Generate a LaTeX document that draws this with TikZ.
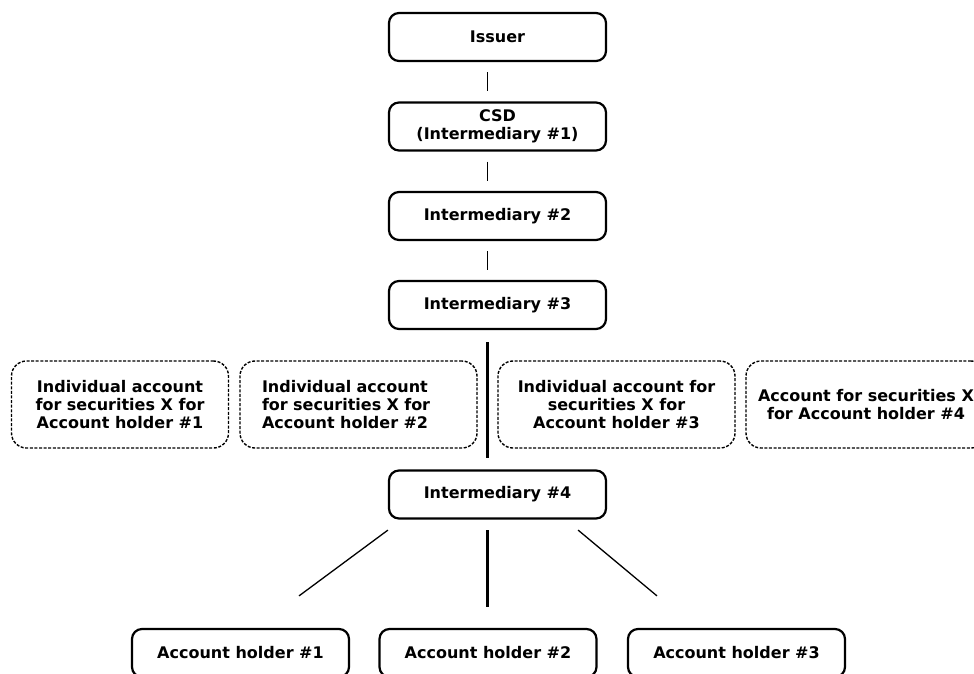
\documentclass[tikz,border=0pt]{standalone}
\usepackage{fontspec}
\setmainfont{DejaVu Sans}
\usepackage{tikz}
\usetikzlibrary{
  arrows.meta,
  calc
}

\begin{document}
\begin{tikzpicture}[
    x=1pt, y=-1pt,
    box/.style={draw, line width=2.2pt, rounded corners=10pt,
      minimum width=217pt, minimum height=48pt, inner sep=0pt,
      align=center, font=\bfseries\fontsize{16}{18}\selectfont},
    acct/.style={draw, line width=1.4pt, dash pattern=on 3pt off 1.6pt,
      rounded corners=15pt, minimum height=87pt, inner sep=0pt,
      align=center, font=\bfseries\fontsize{16}{18}\selectfont},
    link/.style={line width=1.3pt},
    spine/.style={line width=3pt}
    ]

    \useasboundingbox (0,0) rectangle (974,673);

    % Cadeia principal
    \node[box] (issuer) at (497.5,37) {Issuer};
    \node[box] (csd) at (497.5,126.5) {CSD\\(Intermediary \#1)};
    \node[box] (int2) at (497.5,216) {Intermediary \#2};
    \node[box] (int3) at (497.5,305) {Intermediary \#3};
    \node[box] (int4) at (497.5,494.5) {Intermediary \#4};

    \draw[link, shorten <=10pt, shorten >=10pt]
    ([xshift=-10pt]issuer.south) -- ([xshift=-10pt]csd.north);
    \draw[link, shorten <=10pt, shorten >=10pt]
    ([xshift=-10pt]csd.south) -- ([xshift=-10pt]int2.north);
    \draw[link, shorten <=10pt, shorten >=10pt]
    ([xshift=-10pt]int2.south) -- ([xshift=-10pt]int3.north);
    \draw[spine, shorten <=12pt, shorten >=11.5pt]
    ([xshift=-10pt]int3.south) -- ([xshift=-10pt]int4.north);

    % Contas
    \node[acct, minimum width=217pt] (acc1) at (120,404.5)
    {Individual account\\for securities X for\\Account holder \#1};
    \node[acct, minimum width=237pt, text width=193pt, inner xsep=22pt,
      align=left] (acc2) at (358.5,404.5)
    {Individual account\\for securities X for\\Account holder \#2};
    \node[acct, minimum width=237pt] (acc3) at (616.5,404.5)
    {Individual account for\\securities X for\\Account holder \#3};
    \node[acct, minimum width=240pt] (acc4) at (866,404.5)
    {Account for securities X\\for Account holder \#4};

    % Titulares
    \node[box] (ah1) at (240.5,653) {Account holder \#1};
    \node[box] (ah2) at (488,653) {Account holder \#2};
    \node[box] (ah3) at (736.5,653) {Account holder \#3};

    \draw[link] ([yshift=-10.5pt]int4.south west)
    -- ([xshift=58.5pt, yshift=32pt]ah1.north);
    \draw[spine] ([xshift=-10pt, yshift=-10.5pt]int4.south)
    -- ([xshift=-0.5pt, yshift=21pt]ah2.north);
    \draw[link] ([xshift=-29pt, yshift=-10.5pt]int4.south east)
    -- ([xshift=-79.5pt, yshift=32pt]ah3.north);

\end{tikzpicture}
\end{document}
